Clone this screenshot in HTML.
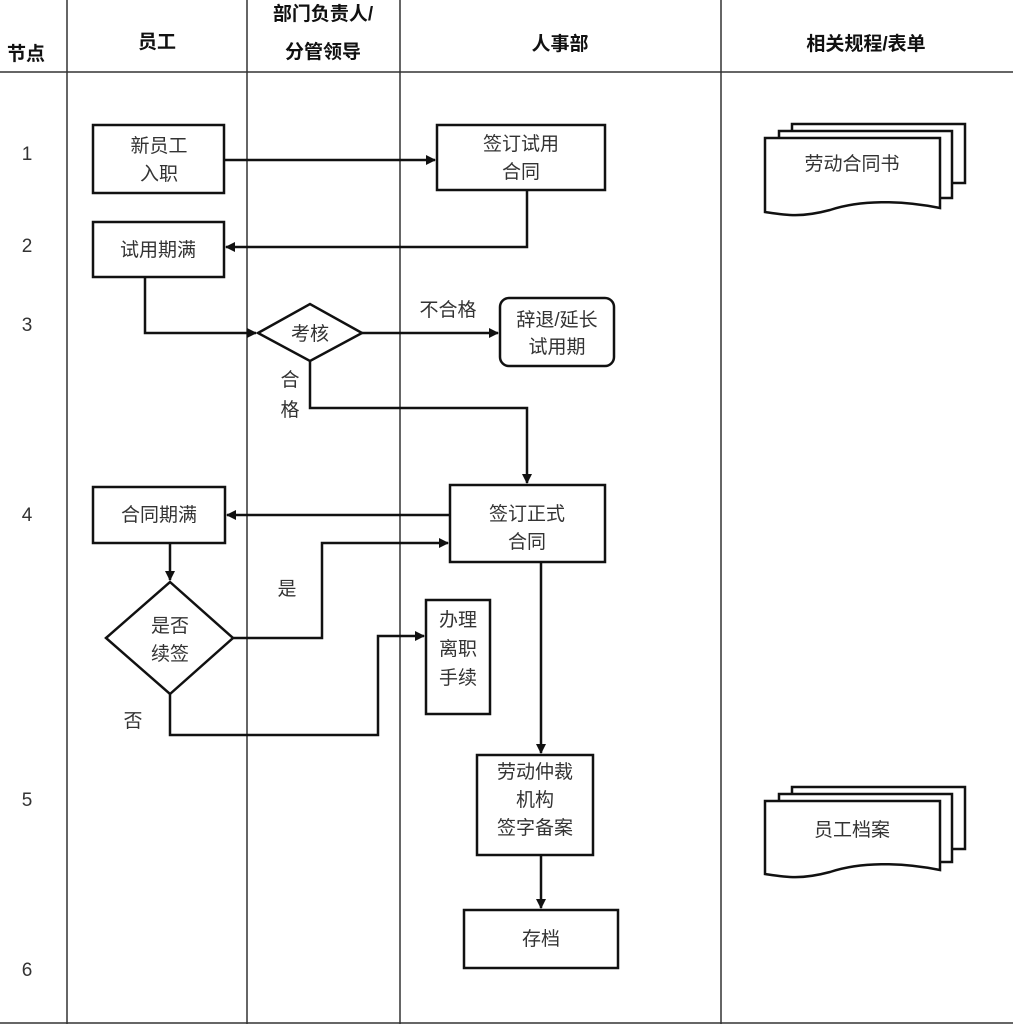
<!DOCTYPE html>
<html><head><meta charset="utf-8"><style>
body{margin:0;background:#fff}
svg{display:block}
text{font-family:"Liberation Sans","Noto Sans CJK SC",sans-serif;font-size:19px;fill:#333;text-anchor:middle}
.h{font-weight:bold;fill:#111;font-size:19px}
</style></head><body>
<svg width="1013" height="1026" viewBox="0 0 1013 1026" xmlns="http://www.w3.org/2000/svg">
<defs><marker id="a" markerWidth="10" markerHeight="10" refX="9" refY="5" orient="auto" markerUnits="userSpaceOnUse"><path d="M0,0 L10,5 L0,10 z" fill="#111"/></marker></defs>
<g stroke="#333" stroke-width="1.5" fill="none">
<line x1="67" y1="0" x2="67" y2="1024"/><line x1="247" y1="0" x2="247" y2="1024"/><line x1="400" y1="0" x2="400" y2="1024"/><line x1="721" y1="0" x2="721" y2="1024"/>
<line x1="0" y1="72" x2="1013" y2="72"/><line x1="0" y1="1023" x2="1013" y2="1023"/>
</g>
<text class="h" x="26" y="60">节点</text><text class="h" x="157" y="48">员工</text>
<text class="h" x="323" y="20">部门负责人/</text><text class="h" x="323" y="58">分管领导</text>
<text class="h" x="560" y="50">人事部</text><text class="h" x="866" y="50">相关规程/表单</text>
<g font-size="18"><text x="27" y="160">1</text><text x="27" y="252">2</text><text x="27" y="331">3</text><text x="27" y="521">4</text><text x="27" y="806">5</text><text x="27" y="976">6</text></g>
<g stroke="#111" stroke-width="2.5" fill="#fff">
<rect x="93" y="125" width="131" height="68"/>
<rect x="437" y="125" width="168" height="65"/>
<rect x="93" y="222" width="131" height="55"/>
<polygon points="258,333 310,304 362,333 310,361"/>
<rect x="500" y="298" width="114" height="68" rx="9"/>
<rect x="450" y="485" width="155" height="77"/>
<rect x="93" y="487" width="132" height="56"/>
<polygon points="106,638 170,582 233,638 170,694"/>
<rect x="426" y="600" width="64" height="114"/>
<rect x="477" y="755" width="116" height="100"/>
<rect x="464" y="910" width="154" height="58"/>
</g>
<g stroke="#111" stroke-width="2.5" fill="none">
<line x1="224" y1="160" x2="435" y2="160" marker-end="url(#a)"/>
<polyline points="527,190 527,247 226,247" marker-end="url(#a)"/>
<polyline points="145,277 145,333 256,333" marker-end="url(#a)"/>
<line x1="362" y1="333" x2="498" y2="333" marker-end="url(#a)"/>
<polyline points="310,361 310,408 527,408 527,483" marker-end="url(#a)"/>
<line x1="450" y1="515" x2="227" y2="515" marker-end="url(#a)"/>
<line x1="170" y1="543" x2="170" y2="580" marker-end="url(#a)"/>
<polyline points="233,638 322,638 322,543 448,543" marker-end="url(#a)"/>
<polyline points="170,694 170,735 378,735 378,636 424,636" marker-end="url(#a)"/>
<line x1="541" y1="562" x2="541" y2="753" marker-end="url(#a)"/>
<line x1="541" y1="855" x2="541" y2="908" marker-end="url(#a)"/>
</g>
<g stroke="#111" stroke-width="2.5" fill="#fff">
<path d="M792,124 H965 V183 H792 Z"/>
<path d="M779,131 H952 V198 H779 Z"/>
<path d="M765,138 H940 V208 C900,200 860,200 830,210 C800,218 785,215 765,212 Z"/>
<path d="M792,787 H965 V849 H792 Z"/>
<path d="M779,794 H952 V862 H779 Z"/>
<path d="M765,801 H940 V870 C900,862 860,862 830,872 C800,880 785,877 765,874 Z"/>
</g>
<text x="159" y="152">新员工</text><text x="159" y="180">入职</text>
<text x="521" y="150">签订试用</text><text x="521" y="178">合同</text>
<text x="158" y="256">试用期满</text>
<text x="310" y="340">考核</text>
<text x="448" y="316">不合格</text>
<text x="557" y="326">辞退/延长</text><text x="557" y="353">试用期</text>
<text x="290" y="386">合</text><text x="290" y="416">格</text>
<text x="527" y="520">签订正式</text><text x="527" y="548">合同</text>
<text x="159" y="521">合同期满</text>
<text x="170" y="632">是否</text><text x="170" y="660">续签</text>
<text x="287" y="595">是</text><text x="133" y="727">否</text>
<text x="458" y="626">办理</text><text x="458" y="655">离职</text><text x="458" y="684">手续</text>
<text x="535" y="778">劳动仲裁</text><text x="535" y="806">机构</text><text x="535" y="834">签字备案</text>
<text x="541" y="945">存档</text>
<text x="852" y="170">劳动合同书</text>
<text x="852" y="836">员工档案</text>
</svg>
</body></html>
